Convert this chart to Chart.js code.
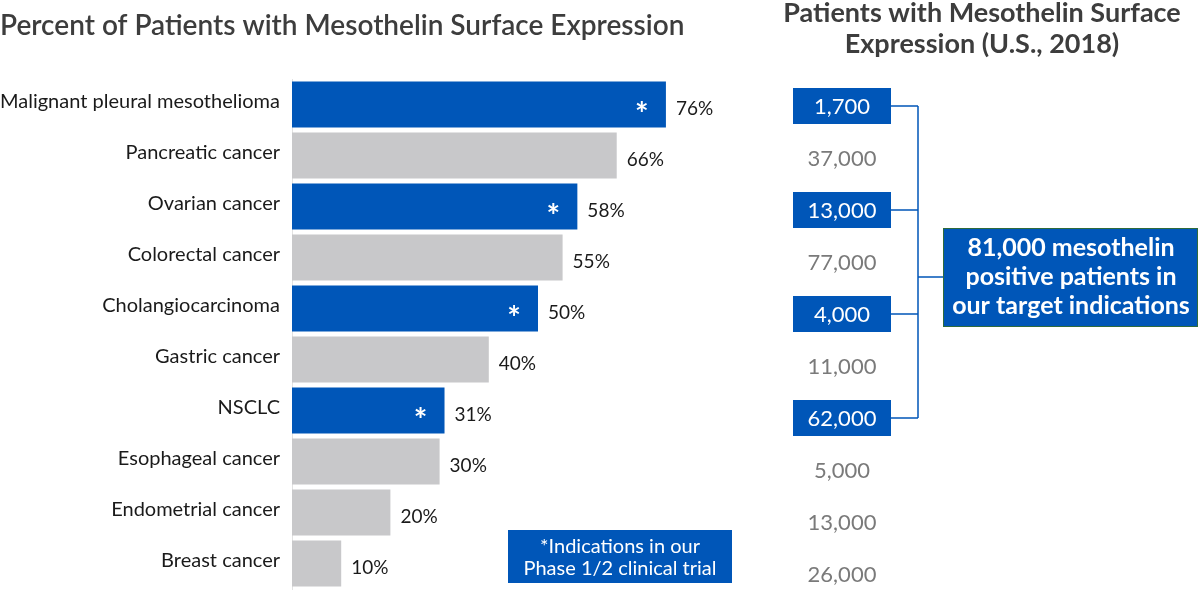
<!DOCTYPE html>
<html>
<head>
<meta charset="utf-8">
<script src="https://cdn.jsdelivr.net/npm/chart.js@4.4.0/dist/chart.umd.min.js"></script>
<style>
    html, body { margin: 0; padding: 0; background: #fff; }
    #wrap { position: relative; width: 1200px; height: 596px; }
</style>
</head>
<body>
<div id="wrap"><canvas id="mesoChart" width="1200" height="596"></canvas></div>
<script>
// chart data
const categories = ['Malignant pleural mesothelioma', 'Pancreatic cancer', 'Ovarian cancer',
    'Colorectal cancer', 'Cholangiocarcinoma', 'Gastric cancer', 'NSCLC',
    'Esophageal cancer', 'Endometrial cancer', 'Breast cancer'];
const percentValues = [76, 66, 58, 55, 50, 40, 31, 30, 20, 10];
const inTrial = [true, false, true, false, true, false, true, false, false, false];
const patientCounts = ['1,700', '37,000', '13,000', '77,000', '4,000', '11,000', '62,000', '5,000', '13,000', '26,000'];

const BLUE = '#0056b8';
const GREY = '#c8c8ca';
const FONT = 'Lato, "Open Sans", sans-serif';

// ✅ Draw titles, labels, right panel
const overlayPlugin = {
    id: 'overlay',
    afterDatasetsDraw(chart) {
        const ctx = chart.ctx;
        const meta = chart.getDatasetMeta(0);
        const yScale = chart.scales.y;
        ctx.save();

        // left title
        ctx.fillStyle = '#3d3d3d';
        ctx.font = '600 28px ' + FONT;
        ctx.textAlign = 'left';
        ctx.textBaseline = 'middle';
        ctx.fillText('Percent of Patients with Mesothelin Surface Expression', 0, 26);

        // right title
        ctx.font = 'bold 27px ' + FONT;
        ctx.textAlign = 'center';
        ctx.fillText('Patients with Mesothelin Surface', 982, 13);
        ctx.fillText('Expression (U.S., 2018)', 982, 44);

        // category labels
        ctx.fillStyle = '#1a1a1a';
        ctx.font = '20px ' + FONT;
        ctx.textAlign = 'right';
        categories.forEach((c, i) => {
            ctx.fillText(c, chart.chartArea.left - 12, yScale.getPixelForValue(i) - 3);
        });

        // value labels + asterisks
        meta.data.forEach((bar, i) => {
            ctx.fillStyle = '#1a1a1a';
            ctx.font = '19px ' + FONT;
            ctx.textAlign = 'left';
            ctx.textBaseline = 'middle';
            ctx.fillText(percentValues[i] + '%', bar.x + 10, bar.y + 4);
            if (inTrial[i]) {
                ctx.fillStyle = '#ffffff';
                ctx.font = 'bold 32px ' + FONT;
                ctx.textAlign = 'center';
                ctx.fillText('*', bar.x - 24, bar.y + 11);
            }
        });

        // right column of patient counts
        const rowY = i => 106 + i * 52;
        ctx.strokeStyle = BLUE;
        ctx.lineWidth = 1.5;
        const boxed = [];
        patientCounts.forEach((txt, i) => {
            const y = rowY(i);
            if (inTrial[i]) {
                ctx.fillStyle = BLUE;
                ctx.fillRect(793, y - 18, 98, 36);
                boxed.push(y);
            }
            ctx.fillStyle = inTrial[i] ? '#ffffff' : '#7a7a7a';
            ctx.font = '22px ' + FONT;
            ctx.textAlign = 'center';
            ctx.textBaseline = 'middle';
            ctx.fillText(txt, 842, y + 1);
        });

        // bracket
        ctx.beginPath();
        boxed.forEach(y => { ctx.moveTo(891, y); ctx.lineTo(918, y); });
        ctx.moveTo(918, boxed[0]);
        ctx.lineTo(918, boxed[boxed.length - 1]);
        ctx.moveTo(918, 277);
        ctx.lineTo(943, 277);
        ctx.stroke();

        // total box
        ctx.fillStyle = BLUE;
        ctx.fillRect(943, 228, 255, 99);
        ctx.strokeStyle = '#2f6b3c';
        ctx.lineWidth = 1;
        ctx.strokeRect(943.5, 228.5, 254, 98);
        ctx.fillStyle = '#ffffff';
        ctx.font = 'bold 25px ' + FONT;
        ctx.textAlign = 'center';
        ctx.fillText('81,000 mesothelin', 1071, 248);
        ctx.fillText('positive patients in', 1071, 277);
        ctx.fillText('our target indications', 1071, 306);

        // footnote box
        ctx.fillStyle = BLUE;
        ctx.fillRect(508, 530, 224, 53);
        ctx.fillStyle = '#ffffff';
        ctx.font = '20px ' + FONT;
        ctx.fillText('*Indications in our', 620, 547);
        ctx.fillText('Phase 1/2 clinical trial', 620, 569);

        ctx.restore();
    }
};

document.addEventListener('DOMContentLoaded', () => {
    const canvas = document.getElementById('mesoChart');
    new Chart(canvas, {
        type: 'bar',
        data: {
            labels: categories,
            datasets: [{
                data: percentValues,
                backgroundColor: inTrial.map(t => t ? BLUE : GREY),
                borderWidth: 0,
                barPercentage: 0.9,
                categoryPercentage: 1.0
            }]
        },
        options: {
            indexAxis: 'y',
            responsive: false,
            animation: false,
            layout: { padding: { top: 79, bottom: 7, right: 416, left: 0 } },
            plugins: {
                legend: { display: false },
                tooltip: { enabled: false }
            },
            scales: {
                x: {
                    min: 0,
                    max: 100,
                    display: false
                },
                y: {
                    grid: { display: false, drawTicks: false },
                    border: { display: true, color: '#e2e2e2', width: 1 },
                    ticks: { display: false },
                    afterFit(scale) { scale.width = 292; }
                }
            }
        },
        plugins: [overlayPlugin]
    });
});
</script>
</body>
</html>
